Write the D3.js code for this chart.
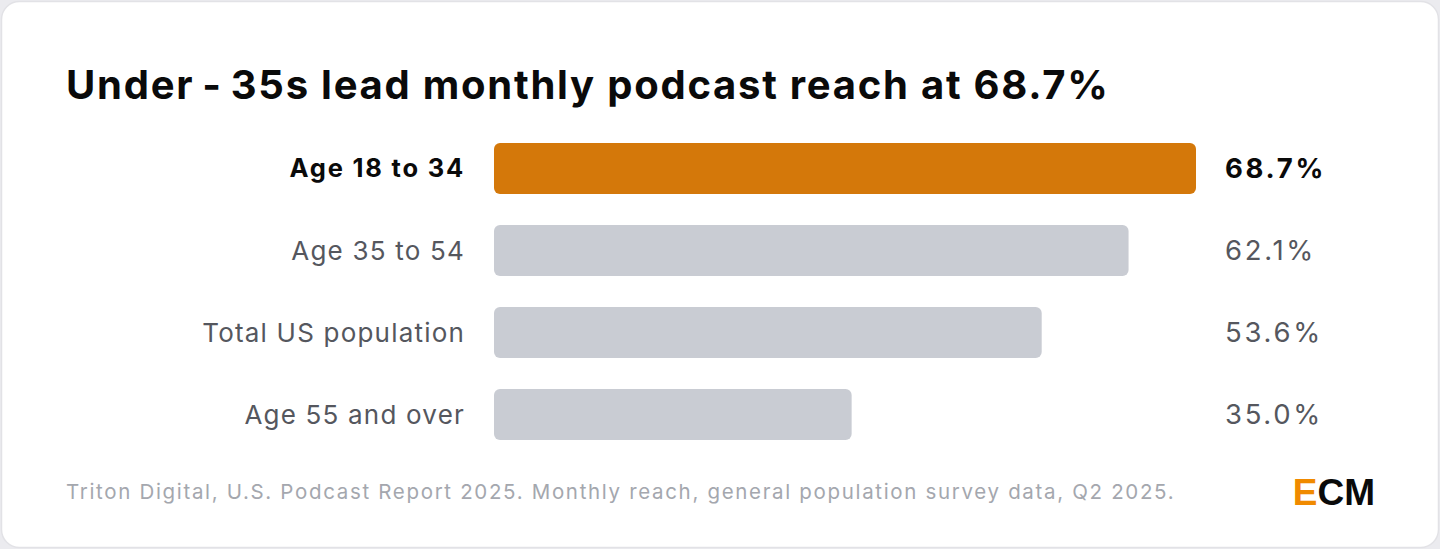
<!DOCTYPE html>
<html><head><meta charset="utf-8">
<script src="https://cdn.jsdelivr.net/npm/d3@7"></script>
<style>html,body{margin:0;padding:0;background:#ebebef;}svg{display:block}</style>
</head><body>
<script>
const categories = ["Age 18 to 34","Age 35 to 54","Total US population","Age 55 and over"];
const values = [68.7, 62.1, 53.6, 35.0];
const highlight = "Age 18 to 34";
const title = "Under\u2009-\u200935s lead monthly podcast reach at 68.7%";
const source = "Triton Digital, U.S. Podcast Report 2025. Monthly reach, general population survey data, Q2 2025.";

const W=1440,H=549;
const svg=d3.select("body").append("svg").attr("width",W).attr("height",H);
svg.append("rect").attr("x",1.5).attr("y",1.5).attr("width",W-3).attr("height",H-3).attr("rx",18)
  .attr("fill","#fff").attr("stroke","#e2e2e6").attr("stroke-width",1.5);
svg.append("text").attr("x",66).attr("y",99).attr("font-family","Inter").attr("font-weight",700)
  .attr("font-size",40).attr("letter-spacing",1.75).attr("fill","#0a0a0a").text(title);
const x=d3.scaleLinear().domain([0,d3.max(values)]).range([494,1196]);
const y=d3.scaleBand().domain(categories).range([143,440]).paddingInner(31/82).paddingOuter(0);
const g=svg.append("g");
categories.forEach((c,i)=>{
  const hi=c===highlight;
  g.append("text").attr("x",465).attr("y",y(c)+y.bandwidth()/2).attr("dy","0.35em").attr("text-anchor","end")
   .attr("font-family","Inter").attr("font-size",hi?25.5:26).attr("letter-spacing",hi?1.8:1.2).attr("font-weight",hi?700:400)
   .attr("fill",hi?"#0a0a0a":"#55575e").text(c);
  g.append("rect").attr("x",x(0)).attr("y",y(c)).attr("width",x(values[i])-x(0)).attr("height",y.bandwidth())
   .attr("rx",6).attr("fill",hi?"#d4780a":"#c9ccd3");
  g.append("text").attr("x",1225).attr("y",y(c)+y.bandwidth()/2).attr("dy","0.35em")
   .attr("font-family","Inter").attr("font-size",27.5).attr("letter-spacing",2.7).attr("font-weight",hi?700:400)
   .attr("fill",hi?"#0a0a0a":"#55575e").text(values[i].toFixed(1)+"%");
});
svg.append("text").attr("x",66).attr("y",499).attr("font-family","Inter").attr("font-size",20.5)
  .attr("letter-spacing",1.67).attr("fill","#a4a7ae").text(source);
const logo=svg.append("text").attr("x",1375).attr("y",505).attr("text-anchor","end")
  .attr("font-family","Liberation Sans, Arial").attr("font-weight",700).attr("font-size",37);
logo.append("tspan").attr("fill","#f08a00").text("E");
logo.append("tspan").attr("fill","#0a0a0a").text("CM");
</script>
</body></html>
